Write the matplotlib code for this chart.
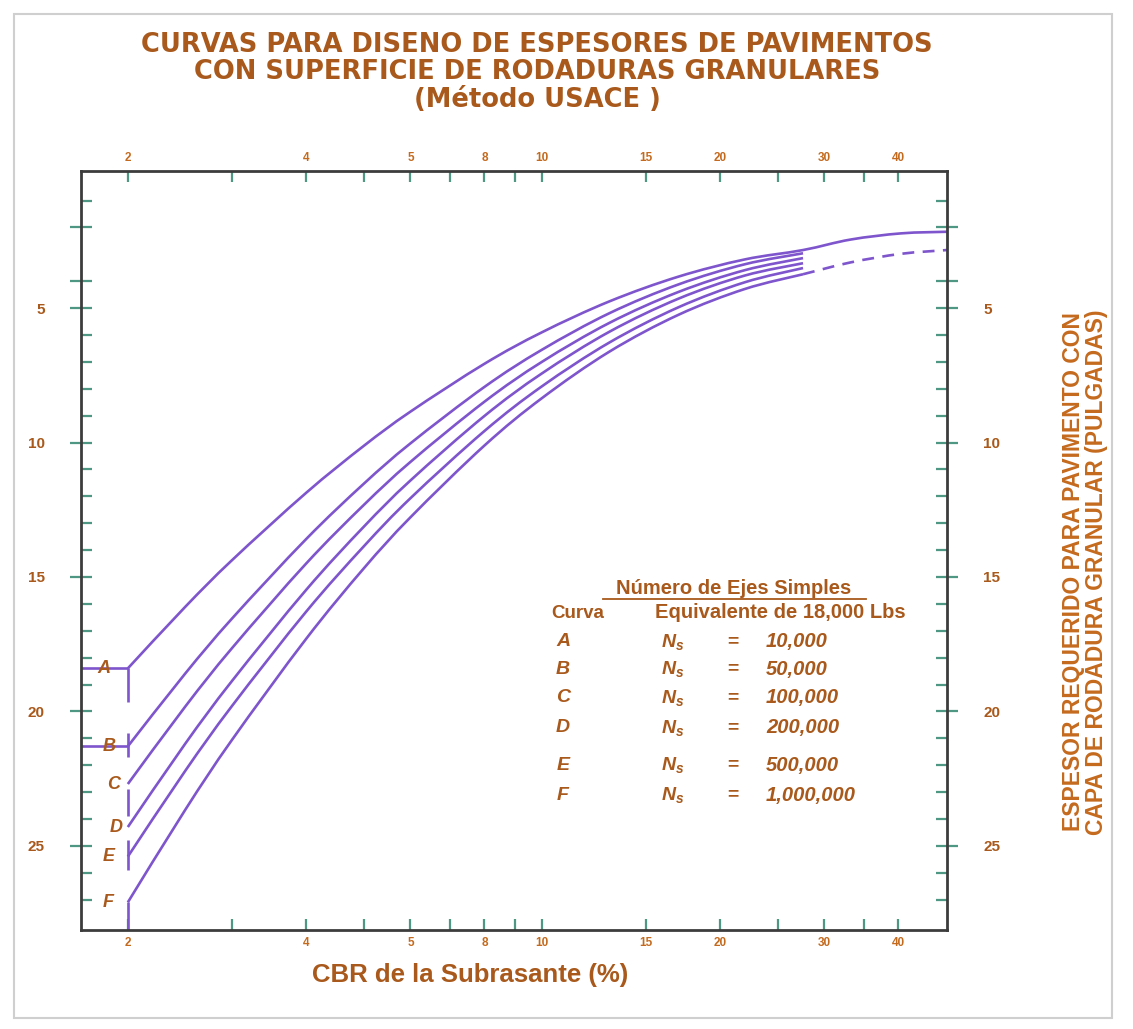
import numpy as np
import matplotlib
matplotlib.use('Agg')
import matplotlib.pyplot as plt
from matplotlib.patches import Rectangle, PathPatch
from matplotlib.path import Path

# ---------------- data ----------------
cbr = [2, 2.5, 3, 4, 5, 6, 8, 10, 13, 17, 22, 27.6]
curve_A = [18.4, 16.11, 14.37, 11.87, 10.13, 8.85, 7.07, 5.90, 4.75, 3.83, 3.19, 2.84]
curve_B = [21.3, 18.59, 16.54, 13.59, 11.54, 10.03, 7.93, 6.55, 5.19, 4.12, 3.37, 2.96]
curve_C = [22.7, 19.82, 17.64, 14.50, 12.33, 10.72, 8.48, 7.00, 5.55, 4.40, 3.59, 3.14]
curve_D = [24.3, 21.20, 18.86, 15.48, 13.14, 11.41, 9.01, 7.43, 5.88, 4.65, 3.79, 3.33]
curve_E = [25.4, 22.21, 19.79, 16.29, 13.87, 12.07, 9.57, 7.91, 6.28, 4.97, 4.04, 3.51]
curve_F = [27.1, 23.66, 21.05, 17.30, 14.69, 12.78, 10.11, 8.35, 6.62, 5.25, 4.29, 3.74]
# extensions beyond the convergence point
ext_cbr = [27.6, 33.2, 40.4, 48.3]
ext_A = [2.84, 2.45, 2.22, 2.16]
ext_F = [3.74, 3.30, 2.98, 2.84]

curve_names = ['A', 'B', 'C', 'D', 'E', 'F']
curve_ns = ['10,000', '50,000', '100,000', '200,000', '500,000', '1,000,000']

x_tick_vals = [2, 3, 4, 5, 6, 7, 8, 9, 10, 15, 20, 25, 30, 35, 40]
x_tick_labels = ['2', '', '4', '', '5', '', '8', '', '10', '15', '20', '', '30', '', '40']
y_major = [2, 4, 5, 10, 15, 20, 25]
y_major_labels = ['', '', '5', '10', '15', '20', '25']
y_minor = [1, 6, 7, 8, 9, 11, 12, 13, 14, 16, 17, 18, 19, 21, 22, 23, 24, 26, 27]

# ---------------- style ----------------
W, H = 1133, 1029
PURPLE = '#7e55cc'
BROWN = '#a8591b'
ORANGE = '#c46a1e'
TICK = '#4e9783'
SPINE = '#3c3c3c'

plt.rcParams['font.family'] = ['Liberation Sans', 'DejaVu Sans']
plt.rcParams['mathtext.fontset'] = 'custom'
plt.rcParams['mathtext.it'] = 'Liberation Sans:italic:bold'
plt.rcParams['mathtext.rm'] = 'Liberation Sans:bold'

fig = plt.figure(figsize=(W / 100, H / 100), dpi=100)
fig.patch.set_facecolor('white')


def fx(px):
    return px / W


def fy(py):
    return 1 - py / H


def smooth_path(xs, ys):
    """Catmull-Rom curve through the data points (in log-x space)."""
    pts = np.column_stack([np.log10(np.asarray(xs, float)), np.asarray(ys, float)])
    n = len(pts)
    verts = [pts[0]]
    codes = [Path.MOVETO]
    for i in range(n - 1):
        p0 = pts[i - 1] if i > 0 else pts[i]
        p1, p2 = pts[i], pts[i + 1]
        p3 = pts[i + 2] if i + 2 < n else pts[i + 1]
        verts += [p1 + (p2 - p0) / 6, p2 - (p3 - p1) / 6, p2]
        codes += [Path.CURVE4] * 3
    verts = np.array(verts)
    verts[:, 0] = 10 ** verts[:, 0]
    return Path(verts, codes)


# frame around the picture
fig.add_artist(Rectangle((fx(14), fy(1018)), fx(1112) - fx(14), fy(14) - fy(1018),
                         transform=fig.transFigure, fill=False, ec='#cfcfcf', lw=1.5))

ax = fig.add_axes([fx(81), fy(930), fx(947) - fx(81), fy(171) - fy(930)])
ax.set_xscale('log')
ax.set_xlim(1.667, 48.3)
ax.set_ylim(28.13, -0.1)

curves = [curve_A, curve_B, curve_C, curve_D, curve_E, curve_F]
# curve A continues solid to the right edge
ax.add_patch(PathPatch(smooth_path(cbr + ext_cbr[1:], curve_A + ext_A[1:]),
                       fill=False, ec=PURPLE, lw=1.9))
for yv in curves[1:]:
    ax.add_patch(PathPatch(smooth_path(cbr, yv), fill=False, ec=PURPLE, lw=1.9,
                           capstyle='butt'))
# curve F continues dashed
ax.add_patch(PathPatch(smooth_path(ext_cbr, ext_F), fill=False, ec=PURPLE, lw=1.9,
                       linestyle=(0, (4.5, 3.2))))

starts = [c[0] for c in curves]
# horizontal leaders for A and B
ax.hlines([starts[0], starts[1]], 1.667, 2, color=PURPLE, lw=1.9)
# vertical pieces at CBR 2
segs = [(starts[0], starts[0] + 1.25), (starts[1] - 0.5, starts[1] + 0.4),
        (starts[2] + 0.2, starts[2] + 1.2), (starts[4] - 0.6, starts[4] + 0.5),
        (starts[5], 28.13)]
for a, b in segs:
    ax.vlines(2, a, b, color=PURPLE, lw=1.9)

# curve letters
letter_x = [1.82, 1.86, 1.89, 1.91, 1.86, 1.85]
for nm, s, lx in zip(curve_names, starts, letter_x):
    ax.text(lx, s, nm, color=BROWN, fontsize=13, fontweight='bold', style='italic',
            ha='center', va='center')

# ticks
ax.set_xticks(x_tick_vals)
ax.set_xticklabels(x_tick_labels)
ax.xaxis.set_minor_locator(matplotlib.ticker.NullLocator())
ax.tick_params(axis='x', which='major', direction='in', length=8, width=1.6,
               color=TICK, top=True, labeltop=True, bottom=True, labelbottom=True,
               labelsize=8.5, labelcolor=ORANGE, pad=5)
for t in ax.xaxis.get_major_ticks():
    t.label2.set_fontweight('bold')
    t.label1.set_fontweight('bold')

ax.set_yticks(y_major)
ax.set_yticklabels(y_major_labels)
ax.set_yticks(y_minor, minor=True)
ax.tick_params(axis='y', which='major', direction='inout', length=16, width=1.6,
               color=TICK, left=True, right=True, labelleft=True, labelright=True,
               labelsize=11, labelcolor=BROWN, pad=18)
ax.tick_params(axis='y', which='minor', direction='in', length=8, width=1.6,
               color=TICK, left=True, right=True)
for t in ax.yaxis.get_major_ticks():
    t.label1.set_fontweight('bold')
    t.label2.set_fontweight('bold')

for sp in ax.spines.values():
    sp.set_color(SPINE)
    sp.set_linewidth(2)

# legend table
fig.text(fx(734), fy(588), 'Número de Ejes Simples', color=BROWN, fontsize=14.5,
         fontweight='bold', ha='center', va='center')
fig.add_artist(plt.Line2D([fx(603), fx(866)], [fy(599), fy(599)], color=BROWN, lw=1.3))
fig.text(fx(578), fy(613), 'Curva', color=BROWN, fontsize=13.5, fontweight='bold',
         ha='center', va='center')
fig.text(fx(780), fy(613), 'Equivalente de 18,000 Lbs', color=BROWN, fontsize=14.5,
         fontweight='bold', ha='center', va='center')
row_y = [642, 669, 698, 728, 765, 795]
for nm, ns, ry in zip(curve_names, curve_ns, row_y):
    fig.text(fx(563), fy(ry), nm, color=BROWN, fontsize=14, fontweight='bold',
             style='italic', ha='center', va='center')
    fig.text(fx(673), fy(ry), r'$N_{s}$', color=BROWN, fontsize=14,
             ha='center', va='center')
    fig.text(fx(733), fy(ry), '=', color=BROWN, fontsize=14, fontweight='bold',
             ha='center', va='center')
    fig.text(fx(766), fy(ry), ns, color=BROWN, fontsize=14.5, fontweight='bold',
             style='italic', ha='left', va='center')

# titles
for txt, py in [('CURVAS PARA DISENO DE ESPESORES DE PAVIMENTOS', 45),
                ('CON SUPERFICIE DE RODADURAS GRANULARES', 72),
                ('(Método USACE )', 100)]:
    fig.text(fx(537), fy(py), txt, color=BROWN, fontsize=18.5, fontweight='bold',
             ha='center', va='center', family=['DejaVu Sans'])

fig.text(fx(470), fy(975), 'CBR de la Subrasante (%)', color=BROWN, fontsize=18.5,
         fontweight='bold', ha='center', va='center')

fig.text(fx(1085), fy(572), 'ESPESOR REQUERIDO PARA PAVIMENTO CON\nCAPA DE RODADURA GRANULAR (PULGADAS)',
         color=ORANGE, fontsize=16.5, fontweight='bold', rotation=90,
         ha='center', va='center', linespacing=1.05)

fig.savefig('out.png', dpi=100)
